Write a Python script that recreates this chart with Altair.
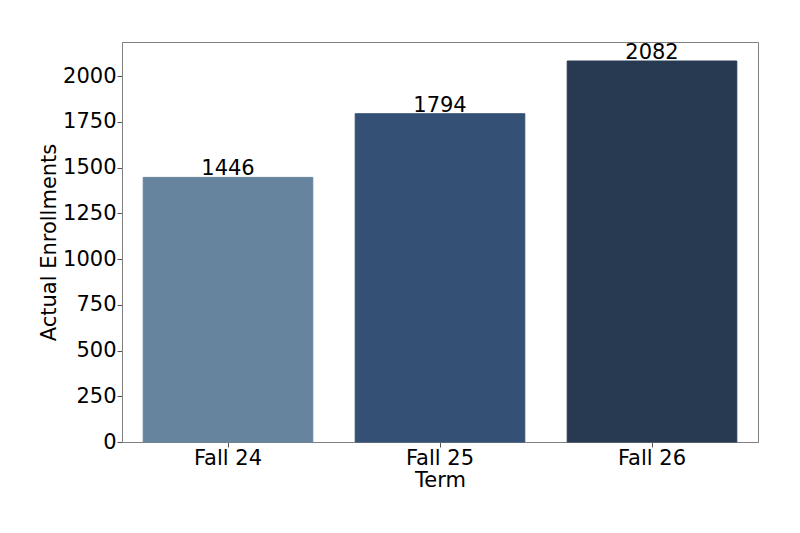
import altair as alt
import pandas as pd

terms = ["Fall 24", "Fall 25", "Fall 26"]
enrollments = [1446, 1794, 2082]
colors = ["#67849F", "#345075", "#273A52"]

df = pd.DataFrame({"term": terms, "value": enrollments})

FONT = "DejaVu Sans"
FS = 21

x = alt.X("term:N", sort=terms, title="Term",
          scale=alt.Scale(paddingInner=0.2, paddingOuter=0.1),
          axis=alt.Axis(labelAngle=0, labelFontSize=FS, titleFontSize=FS,
                        labelFont=FONT, titleFont=FONT, labelColor="black",
                        titleColor="black", titleFontWeight="normal",
                        tickColor="#555555", tickSize=5, domainColor="#808080",
                        labelPadding=0, titlePadding=1))
y = alt.Y("value:Q", title="Actual Enrollments",
          scale=alt.Scale(domain=[0, 2186], nice=False),
          axis=alt.Axis(values=list(range(0, 2001, 250)), format="d",
                        labelFontSize=FS, titleFontSize=FS, labelFont=FONT,
                        titleFont=FONT, labelColor="black", titleColor="black",
                        titleFontWeight="normal", grid=False,
                        tickColor="#555555", tickSize=5, domainColor="#808080",
                        labelPadding=1, titlePadding=3))

bars = alt.Chart(df).mark_bar(strokeWidth=1).encode(
    x=x, y=y,
    color=alt.Color("term:N", scale=alt.Scale(domain=terms, range=colors), legend=None),
    stroke=alt.Color("term:N", scale=alt.Scale(domain=terms, range=colors), legend=None),
)
labels = alt.Chart(df).mark_text(baseline="bottom", dy=2, fontSize=FS, font=FONT,
                                 color="black").encode(
    x=alt.X("term:N", sort=terms), y="value:Q", text="value:Q")

chart = (bars + labels).properties(
    width=636, height=400,
    background="white",
    autosize=alt.AutoSizeParams(type="none"),
    padding={"left": 114, "top": 34, "right": 20, "bottom": 60},
).configure_view(stroke="#808080", strokeWidth=1)

chart.save("out.html", embed_options={"renderer": "svg", "actions": False})
